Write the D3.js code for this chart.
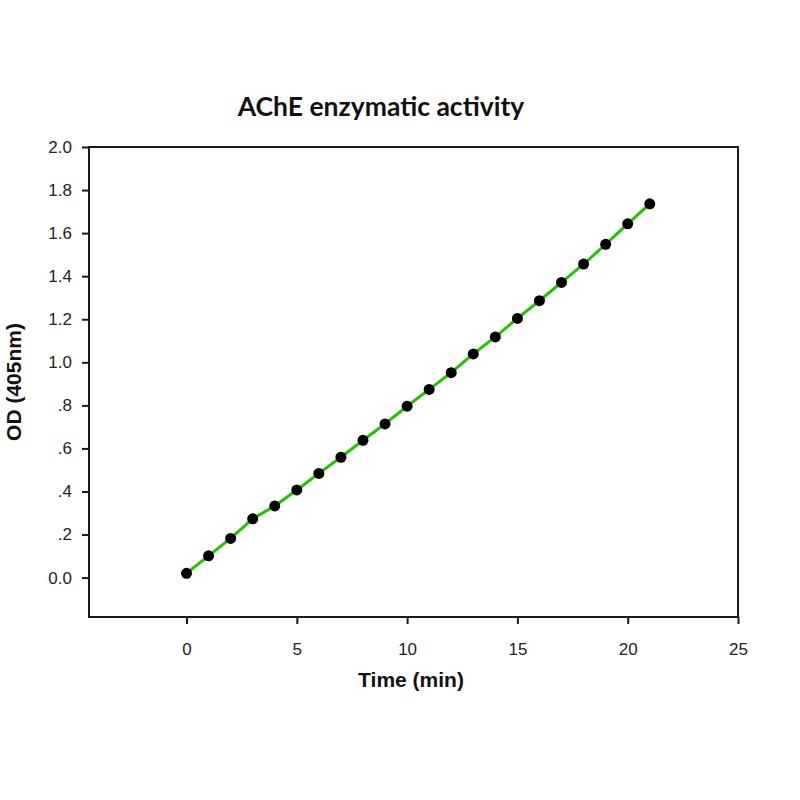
<!DOCTYPE html>
<html>
<head>
<meta charset="utf-8">
<script src="https://cdn.jsdelivr.net/npm/d3@7"></script>
<style>
  body { margin: 0; background: #fff; }
  svg { display: block; }
</style>
</head>
<body>
<svg width="800" height="800"></svg>
<script>
// AChE activity readings, one per minute
var times = [0, 1, 2, 3, 4, 5, 6, 7, 8, 9, 10, 11, 12, 13, 14, 15, 16, 17, 18, 19, 20, 21];
var od = [0.020, 0.101, 0.182, 0.273, 0.333, 0.407, 0.484, 0.559, 0.638, 0.714, 0.796,
          0.874, 0.952, 1.039, 1.118, 1.204, 1.286, 1.371, 1.456, 1.548, 1.643, 1.736];
var xTicks = [0, 5, 10, 15, 20, 25];
var yTicks = [0, 0.2, 0.4, 0.6, 0.8, 1.0, 1.2, 1.4, 1.6, 1.8, 2.0];
var yTickLabels = ["0.0", ".2", ".4", ".6", ".8", "1.0", "1.2", "1.4", "1.6", "1.8", "2.0"];

var svg = d3.select("svg");
var pLeft = 89, pRight = 738, pTop = 147, pBottom = 617;

var x = d3.scaleLinear().domain([-4.42, 25]).range([pLeft, pRight]);
var y = d3.scaleLinear().domain([-0.183, 2.0]).range([pBottom, pTop]);

var data = times.map(function(t, i) { return {t: t, v: od[i]}; });

// frame
svg.append("rect")
    .attr("x", pLeft).attr("y", pTop)
    .attr("width", pRight - pLeft).attr("height", pBottom - pTop)
    .attr("fill", "none").attr("stroke", "#1a1a1a").attr("stroke-width", 2);

var xAxis = svg.append("g")
    .attr("transform", "translate(0," + pBottom + ")")
    .call(d3.axisBottom(x).tickValues(xTicks).tickSize(7).tickPadding(19).tickFormat(d3.format("d")));

var yAxis = svg.append("g")
    .attr("transform", "translate(" + pLeft + ",0)")
    .call(d3.axisLeft(y).tickValues(yTicks).tickSize(7).tickPadding(10)
        .tickFormat(function(d, i) { return yTickLabels[i]; }));

[xAxis, yAxis].forEach(function(g) {
    g.select(".domain").remove();
    g.selectAll(".tick line").attr("stroke", "#1a1a1a").attr("stroke-width", 2);
    g.selectAll(".tick text")
        .attr("fill", "#222")
        .style("font-family", "'Liberation Sans', Arial, sans-serif")
        .style("font-size", "17px");
});

// curve + markers
var line = d3.line()
    .x(function(d) { return x(d.t); })
    .y(function(d) { return y(d.v); });

svg.append("path")
    .datum(data)
    .attr("d", line)
    .attr("fill", "none")
    .attr("stroke", "#22c400")
    .attr("stroke-width", 3);

svg.selectAll("circle.pt")
    .data(data)
    .enter()
    .append("circle")
    .attr("class", "pt")
    .attr("cx", function(d) { return x(d.t); })
    .attr("cy", function(d) { return y(d.v); })
    .attr("r", 5.5)
    .attr("fill", "#000");

// titles
svg.append("text")
    .attr("x", 381).attr("y", 116)
    .attr("text-anchor", "middle")
    .style("font-family", "Lato, 'Open Sans', sans-serif")
    .style("font-weight", "bold")
    .style("font-size", "26.5px")
    .attr("fill", "#111")
    .text("AChE enzymatic activity");

svg.append("text")
    .attr("x", 411).attr("y", 687)
    .attr("text-anchor", "middle")
    .style("font-family", "'Liberation Sans', Arial, sans-serif")
    .style("font-weight", "bold")
    .style("font-size", "21px")
    .attr("fill", "#111")
    .text("Time (min)");

svg.append("text")
    .attr("transform", "translate(21,382) rotate(-90)")
    .attr("text-anchor", "middle")
    .style("font-family", "'Liberation Sans', Arial, sans-serif")
    .style("font-weight", "bold")
    .style("font-size", "21px")
    .attr("fill", "#111")
    .text("OD (405nm)");
</script>
</body>
</html>
